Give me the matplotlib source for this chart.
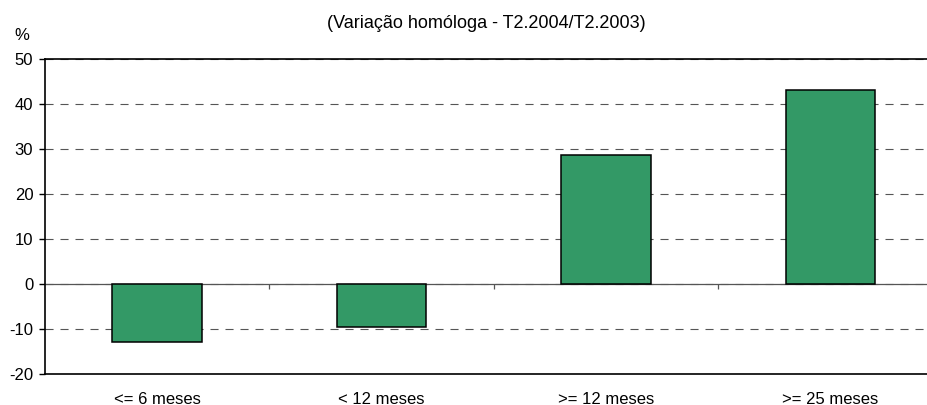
import numpy as np
import matplotlib.pyplot as plt
from matplotlib.ticker import NullFormatter

plt.rcParams['font.family'] = ['Liberation Sans', 'DejaVu Sans']
plt.rcParams['lines.scale_dashes'] = False
plt.rcParams['axes.unicode_minus'] = False

# data
categories = ['<= 6 meses', '< 12 meses', '>= 12 meses', '>= 25 meses']
values = [-13.0, -9.6, 28.8, 43.2]
title = '(Variação homóloga - T2.2004/T2.2003)'

ymin, ymax = -20, 50

fig = plt.figure(figsize=(9.28, 4.05), dpi=100)
# right edge of the plot area runs past the image edge, as in the reference
ax = fig.add_axes([44.8 / 928, (405 - 373.7) / 405, 898.0 / 928, 314.4 / 405])

x = np.arange(len(categories))
ax.bar(x, values, width=0.40, color='#339966', edgecolor='black', linewidth=1.1, zorder=3)

ax.set_xlim(-0.5, len(categories) - 0.5)
ax.set_ylim(ymin, ymax)
ax.set_yticks(np.arange(ymin, ymax + 1, 10))
ax.set_xticks(x)
ax.set_xticklabels(categories)

ax.tick_params(axis='y', labelsize=12, length=4.3, width=1.0, pad=4, color='black')
ax.tick_params(axis='x', labelsize=12, length=0, pad=13)

ax.yaxis.grid(True, color='#555555', linewidth=0.8, dashes=(5.8, 5.0), zorder=1)
ax.set_axisbelow(True)

# zero line with category separator ticks, like the excel category axis
ax.axhline(0, color='#555555', linewidth=0.9, zorder=2)
sec = ax.secondary_xaxis((0 - ymin) / (ymax - ymin))
sec.set_xticks(np.arange(0.5, len(categories) - 0.5, 1))
sec.xaxis.set_major_formatter(NullFormatter())
sec.xaxis.set_ticks_position('bottom')
sec.tick_params(axis='x', direction='out', length=3.8, width=0.9, color='#555555')
sec.spines['bottom'].set_visible(False)
sec.spines['top'].set_visible(False)

for side in ['left', 'top', 'bottom', 'right']:
    ax.spines[side].set_color('black')
    ax.spines[side].set_linewidth(1.2)

fig.text(486.7 / 928, 1 - 23 / 405, title, ha='center', va='center', fontsize=13)
fig.text(14 / 928, 1 - 36 / 405, '%', ha='left', va='center', fontsize=12)

fig.savefig('out.png', dpi=100)
